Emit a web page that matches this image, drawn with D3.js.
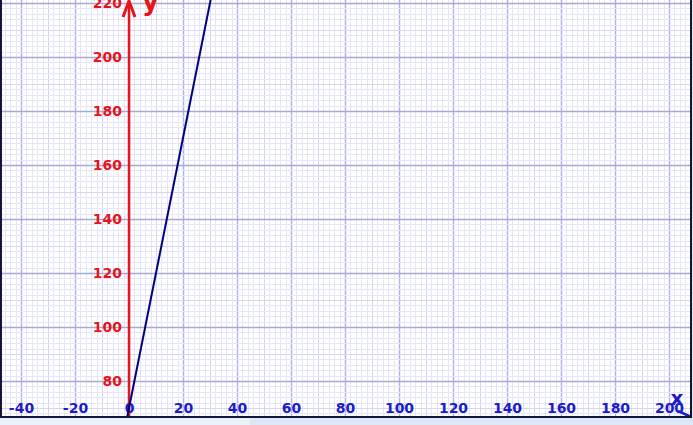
<!DOCTYPE html>
<html>
<head>
<meta charset="utf-8">
<script src="https://cdn.jsdelivr.net/npm/d3@7"></script>
<style>
  body { margin: 0; background: #ffffff; overflow: hidden; }
  .tick text { font-family: "DejaVu Sans", Verdana, sans-serif; font-weight: bold; font-size: 14px; }
</style>
</head>
<body>
<div id="chart"></div>
<script>
// chart data
var xTicks = [-40, -20, 0, 20, 40, 60, 80, 100, 120, 140, 160, 180, 200];
var yTicks = [80, 100, 120, 140, 160, 180, 200, 220];
var lineX = [-2, 32];
var lineY = [60, 230];

var svgWidth = 693;
var svgHeight = 425;
var plotW = 690;
var plotH = 417;

var svg = d3.select("#chart")
  .append("svg")
  .attr("width", svgWidth)
  .attr("height", svgHeight);

// light strip below and right of the frame
svg.append("rect").attr("x", 0).attr("y", 0).attr("width", svgWidth).attr("height", svgHeight).attr("fill", "#dce8f6");
svg.append("rect").attr("x", 0).attr("y", plotH).attr("width", 250).attr("height", svgHeight - plotH).attr("fill", "#e9f1fb");

var xScale = d3.scaleLinear()
  .domain([-47.78, 207.78])
  .range([0, plotW]);

var yScale = d3.scaleLinear()
  .domain([66.67, 221.1])
  .range([plotH, 0]);

svg.append("defs").append("clipPath").attr("id", "clip")
  .append("rect").attr("width", plotW).attr("height", plotH);

var plot = svg.append("g").attr("clip-path", "url(#clip)");

plot.append("rect").attr("width", plotW).attr("height", plotH).attr("fill", "#ffffff");

// grid lines, every 2 units
var minorX = d3.range(-48, 210, 2);
var minorY = d3.range(66, 224, 2);

function gridColor(v) {
  if (v % 20 === 0) return "#b2b2ee";
  if (v % 10 === 0) return "#d4d4f6";
  return "#e6e6fa";
}

plot.selectAll(".vgrid")
  .data(minorX.slice().sort((a, b) => (a % 10 === 0) + (a % 20 === 0) - (b % 10 === 0) - (b % 20 === 0)))
  .enter().append("line")
  .attr("x1", d => Math.round(xScale(d)) + 0.5)
  .attr("x2", d => Math.round(xScale(d)) + 0.5)
  .attr("y1", 0).attr("y2", plotH)
  .attr("stroke", gridColor)
  .attr("stroke-width", d => d % 20 === 0 ? 1.5 : 1);

plot.selectAll(".hgrid")
  .data(minorY.slice().sort((a, b) => (a % 10 === 0) + (a % 20 === 0) - (b % 10 === 0) - (b % 20 === 0)))
  .enter().append("line")
  .attr("y1", d => Math.round(yScale(d)) + 0.5)
  .attr("y2", d => Math.round(yScale(d)) + 0.5)
  .attr("x1", 0).attr("x2", plotW)
  .attr("stroke", d => d % 20 === 0 ? "#a8a8d4" : gridColor(d))
  .attr("stroke-width", d => d % 20 === 0 ? 1.5 : 1);

// y axis (red) with arrow
var x0 = xScale(0);
plot.append("line")
  .attr("x1", x0).attr("x2", x0)
  .attr("y1", plotH).attr("y2", 1)
  .attr("stroke", "#e8141c")
  .attr("stroke-width", 2.5);

plot.append("path")
  .attr("d", `M${x0 - 6},17 L${x0},1 L${x0 + 6},17`)
  .attr("fill", "none")
  .attr("stroke", "#e8141c")
  .attr("stroke-width", 3);

plot.append("text")
  .attr("x", x0 + 13)
  .attr("y", 10)
  .attr("fill", "#e8141c")
  .style("font-family", "DejaVu Sans, Verdana, sans-serif")
  .style("font-weight", "bold")
  .style("font-size", "26px")
  .text("y");

var leftAxis = d3.axisLeft(yScale)
  .tickValues(yTicks)
  .tickSize(0)
  .tickPadding(7);

var yAxisG = plot.append("g")
  .attr("transform", `translate(${x0}, 0)`)
  .call(leftAxis);
yAxisG.select(".domain").remove();
yAxisG.selectAll("text").attr("fill", "#e8141c");

// x axis labels (blue)
var bottomAxis = d3.axisBottom(xScale)
  .tickValues(xTicks)
  .tickSize(0)
  .tickPadding(0)
  .tickFormat(d => String(d));

var xAxisG = plot.append("g")
  .attr("transform", `translate(0, ${yScale(70)})`)
  .call(bottomAxis);
xAxisG.select(".domain").remove();
xAxisG.selectAll("text")
  .attr("dy", "0.35em")
  .attr("y", 0)
  .attr("fill", "#1c1cc4");

plot.append("text")
  .attr("x", 677)
  .attr("y", 405)
  .attr("text-anchor", "middle")
  .attr("fill", "#1c1cc4")
  .style("font-family", "DejaVu Sans, Verdana, sans-serif")
  .style("font-weight", "bold")
  .style("font-size", "20px")
  .text("x");

plot.append("path")
  .attr("d", `M${plotW - 12},411 L${plotW - 1},${plotH - 1} L${plotW - 12},${plotH + 3}`)
  .attr("fill", "none")
  .attr("stroke", "#1c1cc4")
  .attr("stroke-width", 2.5);

// data line
var line = d3.line()
  .x((d, i) => xScale(lineX[i]))
  .y(d => yScale(d));

plot.append("path")
  .datum(lineY)
  .attr("d", line)
  .attr("fill", "none")
  .attr("stroke", "#00007a")
  .attr("stroke-width", 2);

// frame
svg.append("line").attr("x1", 1).attr("x2", 1).attr("y1", 0).attr("y2", plotH + 1)
  .attr("stroke", "#14143c").attr("stroke-width", 2);
svg.append("line").attr("x1", plotW + 1).attr("x2", plotW + 1).attr("y1", 0).attr("y2", plotH + 1)
  .attr("stroke", "#14143c").attr("stroke-width", 2);
svg.append("line").attr("x1", 0).attr("x2", plotW + 2).attr("y1", plotH).attr("y2", plotH)
  .attr("stroke", "#14143c").attr("stroke-width", 2);
</script>
</body>
</html>
